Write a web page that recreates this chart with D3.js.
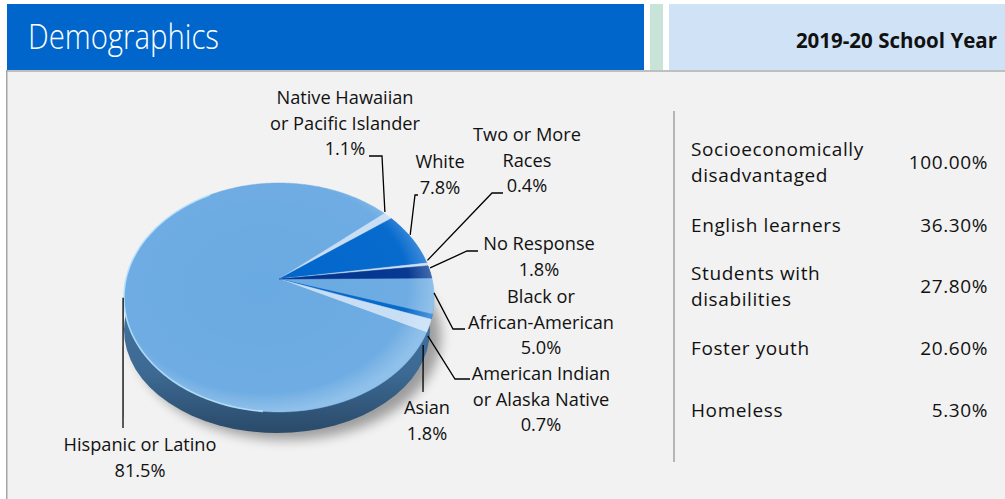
<!DOCTYPE html>
<html><head><meta charset="utf-8">
<script src="https://cdn.jsdelivr.net/npm/d3@7"></script>
<style>
html,body{margin:0;padding:0;background:#fff;}
svg{display:block;font-family:"Open Sans","Noto Sans",sans-serif;}
</style></head><body>
<svg id="chart" width="1005" height="499"></svg>
<script>
// ---------- DATA ----------
const title = "Demographics";
const yearLabel = "2019-20 School Year";
const groups = ["Black or African-American","American Indian or Alaska Native","Asian","Hispanic or Latino",
  "Native Hawaiian or Pacific Islander","White","Two or More Races","No Response"];
const percents = [5.0, 0.7, 1.8, 81.5, 1.1, 7.8, 0.4, 1.8];
const labelLines = [["Black or","African-American"],["American Indian","or Alaska Native"],["Asian"],["Hispanic or Latino"],
  ["Native Hawaiian","or Pacific Islander"],["White"],["Two or More","Races"],["No Response"]];
const subgroupNames = [["Socioeconomically","disadvantaged"],["English learners"],["Students with","disabilities"],["Foster youth"],["Homeless"]];
const subgroupValues = [100.00, 36.30, 27.80, 20.60, 5.30];

// ---------- STYLE / LAYOUT ----------
const sliceColors = ["#6aaae2","#0066cc","#c6ddf4","#6aaae2","#c6ddf4","#0066cc","#c6ddf4","#00338f"];
const labelLayout = [
 {x:541, y:297, sx:465, sy:329, ex:453, ax:0,  ay:-3},
 {x:541, y:374, sx:470, sy:379, ex:455, ax:-4, ay:19},
 {x:427, y:408, sx:423, sy:392, ex:423, ax:-6, ay:19},
 {x:140, y:445, sx:123, sy:428, ex:123, ax:-1, ay:5},
 {x:345, y:98,  sx:369, sy:156, ex:382, ax:-3, ay:-4},
 {x:440, y:162, sx:418, sy:195, ex:415, ax:-2, ay:-4},
 {x:527, y:135, sx:503, sy:193, ex:492, ax:0,  ay:-4},
 {x:539, y:244, sx:478, sy:251, ex:467, ax:0,  ay:-4}
];
const lineGap = 25.5;

const svg = d3.select("#chart");
const defs = svg.append("defs");

// ---------- HEADER ----------
svg.append("rect").attr("x",7).attr("y",4).attr("width",637).attr("height",66).attr("fill","#0066cc");
svg.append("rect").attr("x",650).attr("y",4).attr("width",13).attr("height",66).attr("fill","#c8e4d8");
svg.append("rect").attr("x",669).attr("y",4).attr("width",336).attr("height",66).attr("fill","#cfe2f6");
svg.append("rect").attr("x",7).attr("y",70).attr("width",998).attr("height",2).attr("fill","#bfbfbf");
svg.append("rect").attr("x",7).attr("y",72).attr("width",998).attr("height",427).attr("fill","#f2f2f2");
svg.append("rect").attr("x",6).attr("y",70).attr("width",1.5).attr("height",429).attr("fill","#a6a6a6");

svg.append("text").attr("x",28).attr("y",49).attr("fill","#fff")
  .attr("textLength",191).attr("lengthAdjust","spacingAndGlyphs")
  .style("font-size","34px").style("font-weight",300).text(title);
svg.append("text").attr("x",997).attr("y",48).attr("text-anchor","end").attr("fill","#111")
  .style("font-size","20.5px").style("font-weight",700).text(yearLabel);

// ---------- PIE (3D perspective) ----------
const P = {cx:279, cy:279, A:153, B:111.5, k:0.1615};
function proj(t, r=1){
  const a = t - Math.PI/2;
  const u = r*Math.cos(a), v = r*Math.sin(a);
  const w = 1 - P.k*v;
  return [P.cx + P.A*u/w, P.cy + P.B*v/w];
}
const start = 89.5*Math.PI/180;
const pie = d3.pie().sort(null).value(d=>d).startAngle(start).endAngle(start+2*Math.PI);
const arcs = pie(percents);

// shadow
const blur = defs.append("filter").attr("id","blur").attr("x","-30%").attr("y","-30%").attr("width","160%").attr("height","160%");
blur.append("feGaussianBlur").attr("stdDeviation",6);
svg.append("ellipse").attr("cx",287).attr("cy",336).attr("rx",154).attr("ry",104)
  .attr("fill","#000").attr("opacity",0.35).attr("filter","url(#blur)");

// side
const sideGrad = defs.append("linearGradient").attr("id","sideGrad").attr("x1",0).attr("y1",0).attr("x2",0).attr("y2",1);
sideGrad.append("stop").attr("offset","0%").attr("stop-color","#4a7cab");
sideGrad.append("stop").attr("offset","70%").attr("stop-color","#3d6a94");
sideGrad.append("stop").attr("offset","100%").attr("stop-color","#2a4a69");
svg.append("ellipse").attr("cx",277).attr("cy",330).attr("rx",153).attr("ry",103).attr("fill","url(#sideGrad)");

// top slices
const line = d3.line();
function slicePath(d){
  const pts = [[P.cx,P.cy]];
  const n = Math.max(2, Math.ceil((d.endAngle-d.startAngle)/0.01));
  for(let i=0;i<=n;i++){ pts.push(proj(d.startAngle + (d.endAngle-d.startAngle)*i/n)); }
  return line(pts) + "Z";
}
svg.append("g").selectAll("path").data(arcs).join("path")
  .attr("d", slicePath).attr("fill",(d,i)=>sliceColors[i])
  .attr("stroke",(d,i)=>sliceColors[i]).attr("stroke-width",0.5);

// face shading overlay
const rimPts = d3.range(0,361).map(a=>proj(a*Math.PI/180));
const faceGrad = defs.append("radialGradient").attr("id","faceGrad").attr("cx","45%").attr("cy","45%").attr("r","55%");
faceGrad.append("stop").attr("offset","0%").attr("stop-color","#fff").attr("stop-opacity",0);
faceGrad.append("stop").attr("offset","85%").attr("stop-color","#fff").attr("stop-opacity",0.03);
faceGrad.append("stop").attr("offset","100%").attr("stop-color","#e8f6ff").attr("stop-opacity",0.3);
svg.append("path").attr("d", line(rimPts)+"Z").attr("fill","url(#faceGrad)");
const bevelPts = d3.range(185,330).map(a=>proj(a*Math.PI/180));
svg.append("path").attr("d", line(bevelPts)).attr("fill","none").attr("stroke","#bfe8ff").attr("stroke-width",1.6).attr("opacity",0.8);

// ---------- LABELS ----------
const lg = svg.append("g").style("font-size","18.2px").attr("fill","#111");
arcs.forEach((d,i)=>{
  const L = labelLayout[i];
  const mid = (d.startAngle+d.endAngle)/2;
  const p = proj(mid);
  const anchor = [p[0]+L.ax, p[1]+L.ay];
  lg.append("path").attr("d", line([[L.sx,L.sy],[L.ex,L.sy],anchor]))
    .attr("fill","none").attr("stroke","#000").attr("stroke-width",1.3);
  const lines = labelLines[i].concat([percents[i].toFixed(1)+"%"]);
  const txt = lg.append("text").attr("text-anchor","middle");
  lines.forEach((t,j)=>{
    txt.append("tspan").attr("x",L.x).attr("y",L.y + j*lineGap).attr("dy","0.35em").text(t);
  });
});

// ---------- RIGHT TABLE ----------
svg.append("line").attr("x1",674).attr("x2",674).attr("y1",111).attr("y2",462)
  .attr("stroke","#8c8c8c").attr("stroke-width",1.2);
const rowY = [162, 225, 286, 348, 410];
const rowGap = 26.3;
const tg = svg.append("g").style("font-size","19px").style("letter-spacing","0.6px").attr("fill","#111");
subgroupNames.forEach((nm,i)=>{
  const n = nm.length;
  const txt = tg.append("text");
  nm.forEach((t,j)=>{
    txt.append("tspan").attr("x",691).attr("y",rowY[i] + (j-(n-1)/2)*rowGap).attr("dy","0.35em").text(t);
  });
  tg.append("text").attr("x",988).attr("y",rowY[i]).attr("dy","0.35em").attr("text-anchor","end")
    .text(subgroupValues[i].toFixed(2)+"%");
});
</script>
</body></html>
